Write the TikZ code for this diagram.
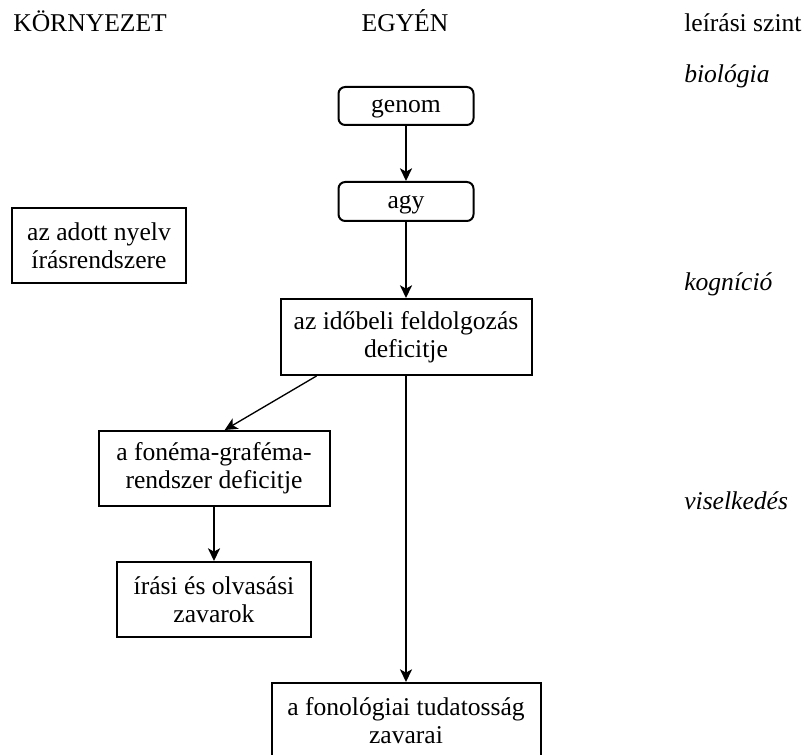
\documentclass[tikz,border=0pt]{standalone}
\usepackage{fontspec}
\setmainfont{Liberation Serif}
\usetikzlibrary{arrows.meta,calc}
\begin{document}
\begin{tikzpicture}[
  x=0.75pt, y=-0.75pt,
  font=\fontsize{19.2pt}{21pt}\selectfont,
  box/.style={draw, line width=1.5pt, align=center, inner sep=0pt},
  roundbox/.style={draw, line width=1.5pt, inner sep=0pt, rounded corners=5pt,
                   text height=13.5pt, text depth=3pt},
  heading/.style={anchor=base west, inner sep=0pt},
  level/.style={anchor=base west, inner sep=0pt, font=\fontsize{19.2pt}{21pt}\selectfont\itshape},
  tip/.style={-{Stealth[length=9.5pt, width=9pt, inset=2.5pt]}},
  conn/.style={line width=1.5pt, tip},
  thinconn/.style={line width=1pt, tip}
]
\useasboundingbox (0,0) rectangle (806,755);

% column headings
\node[heading] (hkorny) at (13,32) {KÖRNYEZET};
\node[anchor=base, inner sep=0pt] (hegyen) at (405,32) {EGYÉN};
\node[heading] (hszint) at (684,32) {leírási szint};

% levels of description
\node[level] (lbio) at (684,83) {biológia};
\node[level] (lkog) at (684,291) {kogníció};
\node[level] (lvis) at (684,509) {viselkedés};

% boxes
\node[roundbox, minimum width=101.25pt, minimum height=28.5pt] (genom) at (406,106) {genom};
\node[roundbox, minimum width=101.25pt, minimum height=29.25pt] (agy) at (406,201.5) {agy};
\node[box, minimum width=130.5pt, minimum height=56.25pt] (nyelv) at (99,245.5) {az adott nyelv\\írásrendszere};
\node[box, minimum width=188.25pt, minimum height=57pt] (ido) at (406,337) {az időbeli feldolgozás\\deficitje};
\node[box, minimum width=173.25pt, minimum height=56.25pt] (fonema) at (214,468.5) {a fonéma-graféma-\\rendszer deficitje};
\node[box, minimum width=145.5pt, minimum height=56.25pt] (irasi) at (214,599.5) {írási és olvasási\\zavarok};
\node[box, minimum width=201.75pt, minimum height=57pt] (fono) at (406,721) {a fonológiai tudatosság\\zavarai};

% connectors
\draw[conn] (genom.south) -- (agy.north);
\draw[conn] (agy.south) -- (ido.north);
\draw[thinconn] ([xshift=27.75pt]ido.south west) -- ([xshift=8pt]fonema.north);
\draw[conn] (ido.south) -- (fono.north);
\draw[conn] (fonema.south) -- (irasi.north);
\end{tikzpicture}
\end{document}
